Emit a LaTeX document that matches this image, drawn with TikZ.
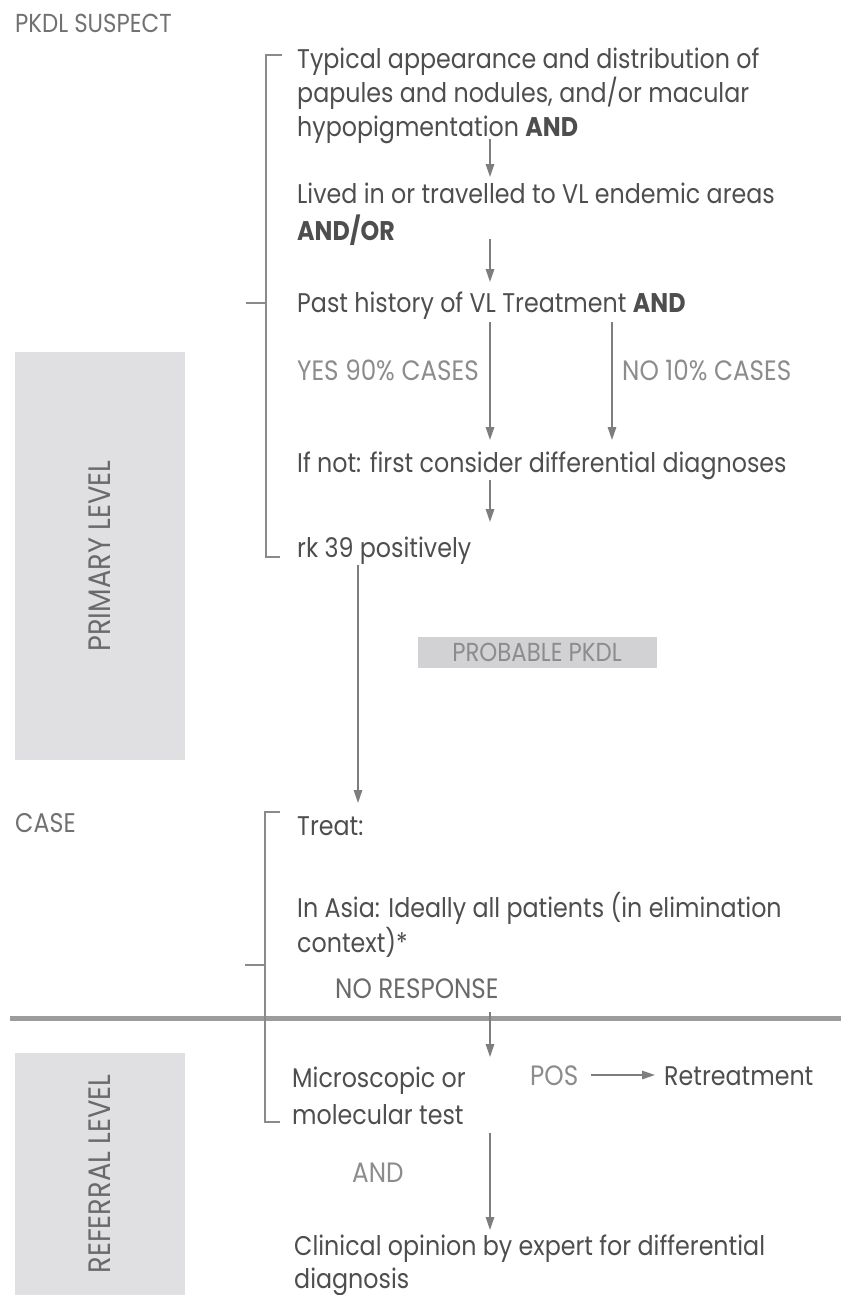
\documentclass[tikz,border=0pt]{standalone}
\usepackage{fontspec}
\setmainfont[FakeStretch=0.88]{Poppins}
\usetikzlibrary{arrows.meta}
\definecolor{txtc}{HTML}{4E4E4E}
\definecolor{labc}{HTML}{8C8C8C}
\definecolor{darkl}{HTML}{6A6A6A}
\definecolor{arrc}{HTML}{7E7E7E}
\definecolor{brkc}{HTML}{8A8A8A}
\definecolor{boxf}{HTML}{E0E0E2}
\definecolor{probf}{HTML}{D2D2D4}
\definecolor{sepc}{HTML}{9C9C9C}
\begin{document}
\begin{tikzpicture}[x=1pt,y=-1pt,
  body/.style={anchor=base west,inner sep=0pt,text=txtc,align=left,font=\fontsize{27}{35}\selectfont},
  lab/.style={anchor=base west,inner sep=0pt,text=labc,font=\fontsize{28}{32}\selectfont},
  arr/.style={draw=arrc,line width=1.4pt,-{Triangle[length=13pt,width=8.5pt]}},
  brk/.style={draw=brkc,line width=2.6pt},
  lvlbox/.style={fill=boxf,draw=none,inner sep=0pt,text=darkl,font=\fontsize{31}{34}\selectfont}]
\useasboundingbox (0,0) rectangle (841,1295);
% level boxes
\node[lvlbox,minimum width=170pt,minimum height=408pt] (prim) at (100,556) {\rotatebox{90}{PRIMARY LEVEL}};
\node[lvlbox,minimum width=170pt,minimum height=242pt] (refl) at (100,1174) {\rotatebox{90}{REFERRAL LEVEL}};
% separator
\draw[draw=sepc,line width=5pt] (10,1018) -- (841,1018);
% labels
\node[lab,font=\fontsize{26}{30}\selectfont,text=darkl!80!labc] (susp) at (15,33) {PKDL SUSPECT};
\node[lab,font=\fontsize{27}{30}\selectfont,text=darkl!80!labc] (case) at (15,832) {CASE};
% texts
\node[body] (t1) at (297,136) {Typical appearance and distribution of\\[-1pt]papules and nodules, and/or macular\\[-1pt]hypopigmentation \textbf{AND}};
\node[body] (t2) at (297,240) {Lived in or travelled to VL endemic areas\\[2pt]\textbf{AND/OR}};
\node[body] (t3) at (297,312) {Past history of VL Treatment \textbf{AND}};
\node[lab] (yes) at (297,380) {YES 90\% CASES};
\node[lab] (no) at (622,380) {NO 10\% CASES};
\node[body] (t4) at (297,472) {If not: first consider differential diagnoses};
\node[body] (t5) at (297,557) {rk 39 positively};
\node[fill=probf,inner sep=0pt,minimum width=239pt,minimum height=31pt,text=labc,font=\fontsize{26}{28}\selectfont] (prob) at (537,652) {PROBABLE PKDL};
\node[body] (t6) at (297,835) {Treat:};
\node[body] (t7) at (297,952) {In Asia: Ideally all patients (in elimination\\context)*};
\node[lab,text=darkl] (nores) at (335,998) {NO RESPONSE};
\node[body] (t8) at (292,1124) {Microscopic or\\[2pt]molecular test};
\node[lab] (pos) at (530,1085) {POS};
\node[body] (retr) at (664,1085) {Retreatment};
\node[lab] (and) at (352,1182) {AND};
\node[body] (t9) at (294,1288) {Clinical opinion by expert for differential\\[-2pt]diagnosis};
% brackets
\draw[brk] (282,55) -- (266,55) -- (266,557) -- (280,557);
\draw[brk] (246,303) -- (266,303);
\draw[brk] (280,812) -- (265,812) -- (265,1122) -- (280,1122);
\draw[brk] (245,965) -- (265,965);
% arrow columns
\coordinate (ca) at (490,0);
\coordinate (cb) at (612,0);
\coordinate (cc) at (358,0);
\draw[arr] ([yshift=-3pt]t1.base -| ca) -- ([yshift=63pt]t2.base -| ca);
\draw[arr] ([yshift=1pt]t2.base -| ca) -- ([yshift=30pt]t3.base -| ca);
\draw[arr] ([yshift=-10pt]t3.base -| ca) -- ([yshift=32pt]t4.base -| ca);
\draw[arr] ([yshift=-10pt]t3.base -| cb) -- ([yshift=32pt]t4.base -| cb);
\draw[arr] ([yshift=-8pt]t4.base -| ca) -- ([yshift=35pt]t5.base -| ca);
\draw[arr] ([yshift=-8pt]t5.base -| cc) -- ([yshift=32pt]t6.base -| cc);
\draw[arr] ([yshift=-14pt]nores.base -| ca) -- ([yshift=67pt]t8.base -| ca);
\draw[arr] ([yshift=-9pt]t8.base -| ca) -- ([yshift=58pt]t9.base -| ca);
\draw[arr] ([xshift=12pt,yshift=10pt]pos.base east) -- ([xshift=-9pt,yshift=10pt]retr.base west);
\end{tikzpicture}
\end{document}
